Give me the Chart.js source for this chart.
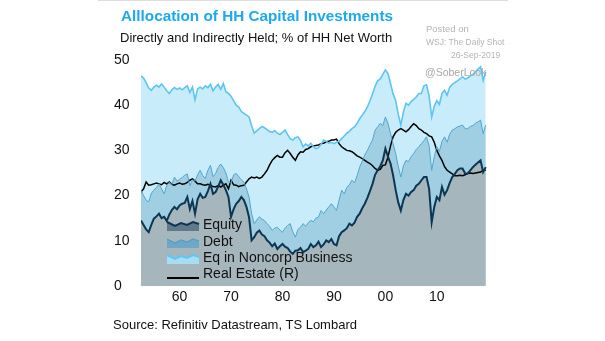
<!DOCTYPE html>
<html>
<head>
<meta charset="utf-8">
<script src="https://cdn.jsdelivr.net/npm/chart.js@4.4.1/dist/chart.umd.min.js"></script>
<style>
  body { margin: 0; background: #fff; font-family: "Liberation Sans", Arial, sans-serif; }
  #wrap { position: relative; width: 605px; height: 341px; overflow: hidden; }
  #myChart { position: absolute; left: 0; top: 0; }
  .t { position: absolute; white-space: nowrap; }
  #topline { position: absolute; left: 98px; top: 0; width: 410px; height: 1px; background: #ddd; }
</style>
</head>
<body>
<div id="wrap">
  <canvas id="myChart" width="605" height="341"></canvas>
  <div id="topline"></div>
  <div class="t" style="left:121px;top:7px;font-size:15.3px;font-weight:bold;color:#1ea9ee;">Alllocation of HH Capital Investments</div>
  <div class="t" style="left:120px;top:30px;font-size:13px;color:#111;">Directly and Indirectly Held; % of HH Net Worth</div>
  <div class="t" style="left:426px;top:23px;font-size:9.5px;color:#b4b4b4;">Posted on</div>
  <div class="t" style="left:426px;top:37px;font-size:8.5px;color:#b4b4b4;">WSJ: The Daily Shot</div>
  <div class="t" style="left:451px;top:50px;font-size:8.5px;color:#b4b4b4;">26-Sep-2019</div>
  <div class="t" style="left:425px;top:66px;font-size:10.5px;color:#a8a8a8;">@SoberLook</div>
  <div class="t" style="left:113px;top:317px;font-size:13px;color:#111;">Source: Refinitiv Datastream, TS Lombard</div>
</div>
<script>
// half-yearly readings, first point 1952.5
const startYear = 1952.5;

const equity = [14.5,
  13.5,12.5, 11.9,13.5, 14.9,15.4, 16.0,15.0, 15.3,14.4, 15.8,16.8, 17.5,17.0,
  17.8,18.2, 18.4,19.7, 17.0,18.8, 16.0,19.2, 20.4,19.5, 19.7,21.0, 22.6,20.4, 20.8,22.0, 23.4,22.4, 21.2,19.7,
  15.3,17.0, 18.2,18.8, 19.7,19.0, 17.5,15.2, 10.1,10.8, 11.8,12.3, 11.4,11.0, 10.1,9.6, 8.8,9.4, 8.2,8.8,
  9.3,8.7, 8.4,7.6, 7.1,7.8, 7.9,8.4, 7.5,7.8, 8.2,9.3, 8.6,9.0, 9.8,8.6, 9.2,10.1, 9.7,10.4,
  9.3,9.0, 11.0,11.9, 12.3,12.8, 13.8,13.4, 14.0,15.3, 16.0,17.2, 18.2,19.5, 21.0,22.6, 24.6,25.6, 26.5,27.8,
  30.4,28.6, 27.1,24.5, 21.2,18.5, 16.7,19.0, 20.4,20.0, 20.8,21.2, 22.2,22.6, 23.4,24.1, 24.1,21.5, 14.1,17.5,
  19.7,19.0, 21.9,20.2, 21.2,22.8, 24.1,24.8, 25.6,26.0, 26.0,24.9, 24.9,25.6, 26.3,26.8, 27.3,27.8, 25.2,26.3];

const debt = [21.2,
  20.0,19.0, 18.6,20.5, 21.2,21.8, 22.6,21.5, 20.4,22.2, 23.0,22.4, 24.1,23.2,
  23.6,24.0, 24.5,24.8, 22.2,23.5, 23.2,24.6, 25.6,24.4, 23.8,25.6, 26.7,24.2, 24.9,26.2, 27.0,26.2, 25.0,23.0,
  22.8,24.6, 24.9,24.2, 23.5,23.0, 21.5,19.7, 16.0,13.8, 14.6,15.3, 14.8,14.5, 13.8,13.2, 12.3,12.8, 13.0,12.4,
  11.9,12.8, 13.4,13.8, 12.0,10.8, 12.5,13.0, 13.8,13.2, 14.0,14.5, 14.2,15.0, 15.3,16.7, 16.0,16.8, 17.5,18.2,
  17.5,16.7, 19.0,21.2, 20.4,21.8, 22.4,23.4, 22.8,24.4, 26.3,27.6, 29.0,30.0, 31.2,32.3, 34.5,35.2, 36.0,35.5,
  37.4,36.0, 33.7,31.5, 29.3,26.5, 24.1,26.6, 27.8,27.5, 28.6,29.3, 30.2,30.8, 31.5,32.2, 33.0,31.0, 25.6,28.6,
  30.8,29.8, 32.0,33.0, 31.8,33.6, 34.5,34.8, 35.2,35.4, 35.6,34.8, 34.8,35.3, 35.5,36.0, 36.3,36.7, 33.7,35.6];

const noncorp = [46.5,
  46.0,45.0, 43.8,43.3, 44.0,44.4, 44.0,44.7, 44.0,43.2, 42.6,43.4, 43.9,43.5,
  43.8,43.4, 43.9,44.3, 42.8,44.0, 41.2,43.6, 44.0,43.6, 44.3,43.9, 44.6,43.2, 44.0,44.6, 43.5,44.8, 43.0,42.6,
  42.0,41.0, 40.0,39.6, 38.6,38.2, 37.8,37.4, 35.5,33.8, 34.3,34.8, 35.3,35.0, 34.6,34.2, 34.0,34.4, 33.8,33.5,
  34.0,34.5, 33.5,32.6, 32.3,32.8, 33.0,32.2, 30.8,31.4, 31.0,31.6, 30.8,30.4, 30.6,31.4, 32.3,32.0, 31.6,31.8,
  31.5,31.8, 32.0,32.6, 33.2,33.8, 34.2,34.8, 35.2,36.0, 37.0,37.8, 38.6,39.6, 41.0,42.5, 44.2,45.4, 45.8,46.8,
  47.8,47.0, 44.8,42.5, 41.0,38.0, 35.6,38.5, 40.4,40.0, 40.8,41.3, 41.8,42.6, 42.6,44.3, 44.5,42.0, 37.4,39.8,
  41.0,40.2, 42.6,43.3, 42.2,44.0, 44.6,45.0, 45.4,45.8, 46.3,45.8, 46.0,46.5, 46.8,47.4, 48.0,48.5, 45.5,47.4];

const realEstate = [20.8,
  21.5,23.0, 22.3,22.4, 22.6,22.8, 22.6,22.4, 22.9,22.6, 23.0,22.5, 22.3,22.6,
  22.8,22.5, 22.6,22.9, 23.4,23.7, 23.2,22.6, 22.6,22.4, 22.3,22.5, 22.3,22.0, 21.9,22.2, 21.9,22.3, 22.6,21.5,
  23.4,22.4, 22.3,22.0, 22.2,22.3, 23.0,23.7, 24.1,23.9, 24.1,23.8, 24.1,24.8, 25.6,26.8, 27.8,28.4, 28.9,28.5,
  28.5,29.5, 30.0,29.3, 28.5,27.8, 29.0,29.7, 29.6,30.2, 30.4,30.8, 31.0,31.1, 31.2,31.5, 31.6,31.9, 32.0,32.3,
  32.3,32.5, 31.5,30.8, 30.4,30.0, 29.9,29.7, 29.3,28.8, 28.5,28.2, 27.8,27.4, 27.1,26.6, 26.0,25.6, 25.8,26.7,
  26.8,28.5, 31.0,33.0, 34.0,34.5, 34.8,34.5, 34.1,34.6, 35.3,35.9, 35.5,34.8, 34.5,34.0, 33.7,33.2, 33.0,31.8,
  30.0,28.8, 27.8,26.4, 25.6,25.2, 24.8,24.4, 24.4,24.5, 24.4,24.6, 24.9,25.0, 24.9,25.0, 25.1,25.2, 25.6,25.6];

const tickYears = [1960, 1970, 1980, 1990, 2000, 2010];
const tickLabels = ['60', '70', '80', '90', '00', '10'];
const yTicks = [0, 10, 20, 30, 40, 50];
const seriesNames = ['Equity', 'Debt', 'Eq in Noncorp Business', 'Real Estate (R)'];

const years = equity.map((_, i) => startYear + i / 2);
const pts = arr => arr.map((v, i) => ({ x: years[i], y: v }));

// legend drawn inside the plot, bottom left, with little area icons
const insideLegend = {
  id: 'insideLegend',
  afterDatasetsDraw(chart) {
    const ctx = chart.ctx;
    const x0 = 167, w = 32, tx = 203;
    const rows = [225, 242, 258, 274];
    const icons = [
      { fill: '#5f7b8a', line: '#0f3550', lw: 2 },
      { fill: '#6ea8c6', line: '#4f9ec6', lw: 1.2 },
      { fill: '#a6ddf3', line: '#5ec8f4', lw: 2 }
    ];
    ctx.save();
    rows.forEach((yc, i) => {
      if (i < 3) {
        const ic = icons[i];
        const zig = [[0, -3], [8, 1], [14, -2], [20, 0], [26, -3], [32, -1]];
        ctx.beginPath();
        ctx.moveTo(x0, yc + 6);
        zig.forEach(p => ctx.lineTo(x0 + p[0], yc + p[1]));
        ctx.lineTo(x0 + w, yc + 6);
        ctx.closePath();
        ctx.fillStyle = ic.fill;
        ctx.fill();
        ctx.beginPath();
        zig.forEach((p, k) => k ? ctx.lineTo(x0 + p[0], yc + p[1]) : ctx.moveTo(x0 + p[0], yc + p[1]));
        ctx.strokeStyle = ic.line;
        ctx.lineWidth = ic.lw;
        ctx.stroke();
      } else {
        ctx.beginPath();
        ctx.moveTo(x0, yc + 4);
        ctx.lineTo(x0 + w, yc + 4);
        ctx.strokeStyle = '#000';
        ctx.lineWidth = 2;
        ctx.stroke();
      }
      ctx.fillStyle = '#111';
      ctx.font = '14px "Liberation Sans", Arial, sans-serif';
      ctx.textBaseline = 'middle';
      ctx.fillText(seriesNames[i], tx, yc);
    });
    ctx.restore();
  }
};

const ctx = document.getElementById('myChart');

new Chart(ctx, {
  type: 'line',
  data: {
    datasets: [{
      label: seriesNames[0],
      data: pts(equity),
      borderColor: '#0c3652',
      borderWidth: 2,
      backgroundColor: '#a5b6bd',
      fill: 'origin'
    }, {
      label: seriesNames[1],
      data: pts(debt),
      borderColor: '#52a6cf',
      borderWidth: 1,
      backgroundColor: '#a0cfe3',
      fill: 'origin'
    }, {
      label: seriesNames[2],
      data: pts(noncorp),
      borderColor: '#5cc5f2',
      borderWidth: 1.6,
      backgroundColor: '#c9ecfa',
      fill: 'origin'
    }, {
      label: seriesNames[3],
      data: pts(realEstate),
      borderColor: '#000',
      borderWidth: 1.5,
      fill: false,
      yAxisID: 'y1'
    }]
  },
  plugins: [insideLegend],
  options: {
    responsive: false,
    animation: false,
    devicePixelRatio: 1,
    layout: { padding: { left: 114, right: 118, top: 60, bottom: 35 } },
    elements: { point: { radius: 0 }, line: { tension: 0 } },
    scales: {
      x: {
        type: 'linear',
        min: 1952.5,
        max: 2019.75,
        afterBuildTicks: s => { s.ticks = tickYears.map(v => ({ value: v })); },
        afterFit: s => { s.height = 20; },
        ticks: {
          callback: v => tickLabels[tickYears.indexOf(v)],
          color: '#111',
          font: { family: '"Liberation Sans", Arial, sans-serif', size: 14 },
          padding: 3,
          maxRotation: 0
        },
        grid: { display: false, drawTicks: false },
        border: { display: false }
      },
      y: {
        min: 0,
        max: 50,
        afterBuildTicks: s => { s.ticks = yTicks.map(v => ({ value: v })); },
        afterFit: s => { s.width = 27; },
        ticks: {
          crossAlign: 'far',
          color: '#111',
          font: { family: '"Liberation Sans", Arial, sans-serif', size: 14 }
        },
        grid: { display: false, drawTicks: false },
        border: { display: false }
      },
      y1: {
        position: 'right',
        display: false,
        min: 0,
        max: 50
      }
    },
    plugins: {
      filler: { drawTime: 'beforeDatasetsDraw' },
      legend: { display: false },
      tooltip: { enabled: false }
    }
  }
});
</script>
</body>
</html>
